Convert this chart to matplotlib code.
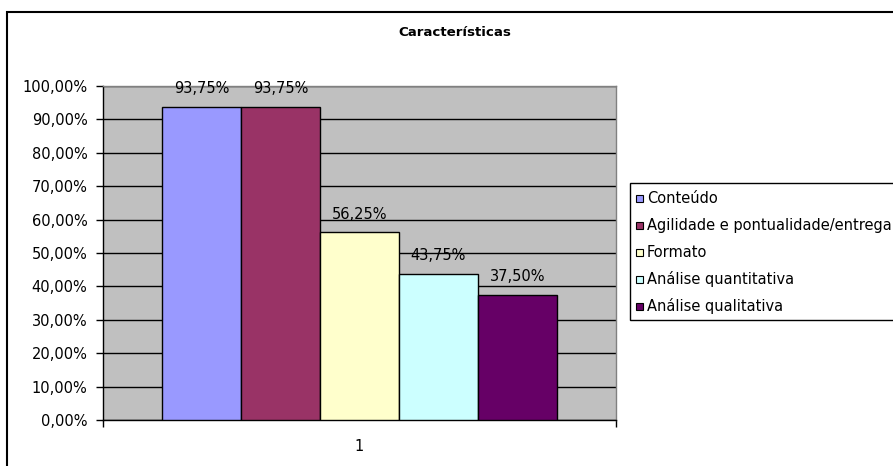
import matplotlib
matplotlib.use("Agg")
import matplotlib.pyplot as plt
from matplotlib.patches import Rectangle

plt.rcParams['font.family'] = ['DejaVu Sans']

title = "Características"
categories = ["1"]
series_names = [
    "Conteúdo",
    "Agilidade e pontualidade/entrega",
    "Formato",
    "Análise quantitativa",
    "Análise qualitativa",
]
series_values = [93.75, 93.75, 56.25, 43.75, 37.50]
series_colors = ["#9999FF", "#993366", "#FFFFCC", "#CCFFFF", "#660066"]
y_ticks = [0, 10, 20, 30, 40, 50, 60, 70, 80, 90, 100]

W, H = 893, 466
fig = plt.figure(figsize=(W / 100, H / 100), dpi=100)
fig.patch.set_facecolor("white")


def fx(px):
    return px / W


def fy(px):
    return 1 - px / H


# outer chart frame (extends past the right/bottom edges)
fig.patches.append(Rectangle((fx(7), -0.05), 1.2, fy(12) + 0.05,
                             transform=fig.transFigure, fill=False,
                             edgecolor="black", linewidth=1.5, zorder=0))

left, right, top, bottom = 102.7, 616, 86, 420
ax = fig.add_axes([fx(left), fy(bottom), (right - left) / W, (bottom - top) / H])
ax.set_facecolor("#C0C0C0")

fs = 10.5
n = len(series_values)
gap = 1.5  # Excel-style gap width, in bar widths
bw = 1 / (n + gap)
for i, (name, val, col) in enumerate(zip(series_names, series_values, series_colors)):
    x0 = gap / 2 * bw + i * bw
    ax.bar(x0, val, width=bw, align="edge", color=col, edgecolor="black",
           linewidth=1, label=name, zorder=3)
    ax.annotate(f"{val:.2f}%".replace(".", ","), (x0 + bw / 2, val),
                xytext=(0, 9.8), textcoords="offset points",
                ha="center", va="baseline", fontsize=fs, zorder=5,
                annotation_clip=False)

ax.set_xlim(0, 1)
ax.set_ylim(0, 100)
ax.set_yticks(y_ticks)
ax.set_yticklabels([f"{v:.2f}%".replace(".", ",") for v in y_ticks], fontsize=fs)
ax.yaxis.grid(True, color="black", linewidth=1, zorder=1)
ax.set_axisbelow(True)
ax.tick_params(axis="y", direction="out", length=5, width=1, pad=6, color="black")

ax.set_xticks([0, 1])
ax.set_xticklabels(["", ""])
ax.tick_params(axis="x", which="major", direction="out", length=5, width=1)
ax.set_xticks([0.5], minor=True)
ax.set_xticklabels(categories, minor=True, fontsize=fs)
ax.tick_params(axis="x", which="minor", length=0, pad=14)

for s in ("top", "right"):
    ax.spines[s].set_color("#808080")
    ax.spines[s].set_linewidth(1)
for s in ("left", "bottom"):
    ax.spines[s].set_color("black")
    ax.spines[s].set_linewidth(1)

fig.text(fx(455), fy(33), title, ha="center", va="center",
         fontsize=9.6, fontweight="bold")

# legend box, running off the right edge like the long series name
leg_top, leg_bottom, leg_left = 183, 320, 630
fig.patches.append(Rectangle((fx(leg_left), fy(leg_bottom)), 1.0,
                             (leg_bottom - leg_top) / H,
                             transform=fig.transFigure, facecolor="white",
                             edgecolor="black", linewidth=1, zorder=2))
row0, row_step, sq = 198, 27, 7
for i, (name, col) in enumerate(zip(series_names, series_colors)):
    yc = row0 + i * row_step
    fig.patches.append(Rectangle((fx(636), fy(yc + sq / 2)), sq / W, sq / H,
                                 transform=fig.transFigure, facecolor=col,
                                 edgecolor="black", linewidth=0.8, zorder=3))
    fig.text(fx(647), fy(yc + 5), name, ha="left", va="baseline",
             fontsize=fs, zorder=4)

fig.savefig("out.png", dpi=100)
